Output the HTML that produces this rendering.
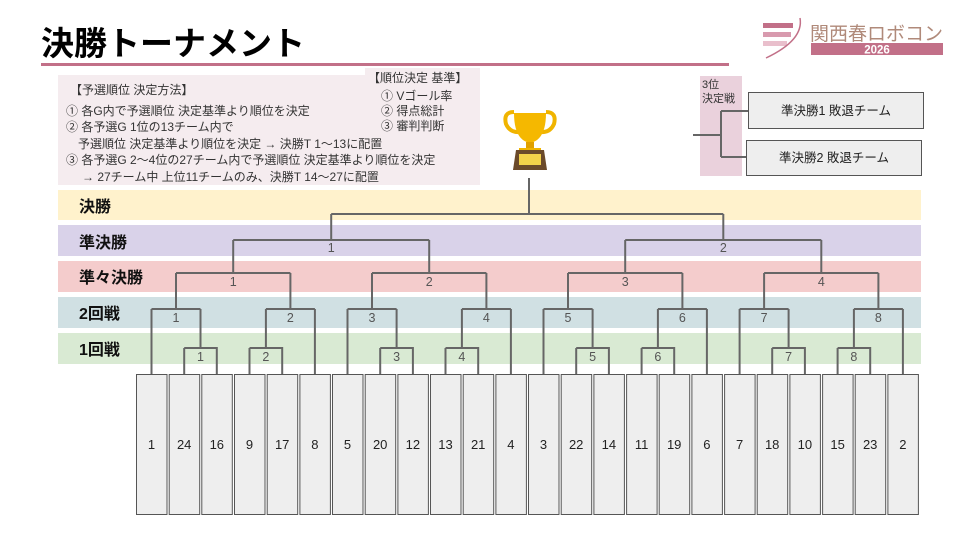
<!DOCTYPE html>
<html><head><meta charset="utf-8"><style>
body{margin:0;width:960px;height:540px;background:#fff;overflow:hidden;font-family:"Liberation Sans","Noto Sans CJK JP",sans-serif;}
</style></head><body>
<svg width="960" height="540" viewBox="0 0 960 540" xmlns="http://www.w3.org/2000/svg" font-family="Liberation Sans, Noto Sans CJK JP, sans-serif">
<text x="41" y="55" font-size="33" font-weight="bold" fill="#000">決勝トーナメント</text>
<rect x="41" y="63" width="688" height="3" fill="#c27088"/>
<!-- logo -->
<g>
<rect x="763" y="23" width="30" height="5" fill="#c27088"/>
<rect x="763" y="32" width="28" height="5" fill="#d89aae"/>
<rect x="763" y="41" width="24" height="5" fill="#e9bfcc"/>
<path d="M800 18 Q804 40 766 58" stroke="#c27088" stroke-width="1.5" fill="none"/>
<text x="810" y="40" font-size="19" fill="#b08a7a">関西春ロボコン</text>
<rect x="811" y="43" width="132" height="12" fill="#c27088"/>
<text x="877" y="53.5" font-size="11.5" font-weight="bold" fill="#fff" text-anchor="middle">2026</text>
</g>
<!-- info box -->
<rect x="58" y="75" width="420" height="110" fill="#f5ecef"/>
<rect x="365" y="68" width="115" height="117" fill="#f5ecef"/>
<g font-size="12" fill="#333">
<text x="70" y="94">【予選順位 決定方法】</text>
<text x="66" y="115">① 各G内で予選順位 決定基準より順位を決定</text>
<text x="66" y="131">② 各予選G 1位の13チーム内で</text>
<text x="78" y="148">予選順位 決定基準より順位を決定 → 決勝T 1〜13に配置</text>
<text x="66" y="164">③ 各予選G 2〜4位の27チーム内で予選順位 決定基準より順位を決定</text>
<text x="82" y="181">→ 27チーム中 上位11チームのみ、決勝T 14〜27に配置</text>
<text x="368" y="82">【順位決定 基準】</text>
<text x="381" y="100">① Vゴール率</text>
<text x="381" y="115">② 得点総計</text>
<text x="381" y="130">③ 審判判断</text>
</g>
<!-- trophy -->
<g>
<path d="M514 112 Q503 112 506 124 Q510 133 520 132" stroke="#f0b400" stroke-width="4" fill="none"/>
<path d="M546 112 Q557 112 554 124 Q550 133 540 132" stroke="#f0b400" stroke-width="4" fill="none"/>
<path d="M514 113 L546 113 Q546 140 530 143 Q514 140 514 113 Z" fill="#f5b800"/>
<rect x="526" y="142" width="8" height="8" fill="#e0a000"/>
<rect x="519" y="148" width="22" height="4" fill="#f0b400"/>
<path d="M513 170 L516 150 L544 150 L547 170 Z" fill="#6b4a2a"/>
<rect x="519" y="154" width="22" height="11" fill="#f3d24a"/>
</g>
<!-- 3rd place -->
<rect x="700" y="76" width="42" height="100" fill="#ead1dc"/>
<text x="702" y="88" font-size="11" fill="#333">3位</text>
<text x="702" y="102" font-size="11" fill="#333">決定戦</text>
<g stroke="#666" stroke-width="2" fill="none">
<path d="M693 135 H721 M721 111 V157 M721 111 H748 M721 157 H746"/>
</g>
<rect x="748.5" y="92.5" width="175" height="36" fill="#eee" stroke="#555"/>
<rect x="746.5" y="140.5" width="175" height="35" fill="#eee" stroke="#555"/>
<text x="836" y="115" font-size="12.5" text-anchor="middle" fill="#222">準決勝1 敗退チーム</text>
<text x="834" y="162" font-size="12.5" text-anchor="middle" fill="#222">準決勝2 敗退チーム</text>
<!-- bands -->
<rect x="58" y="190" width="863" height="30" fill="#fff2cc"/>
<rect x="58" y="225" width="863" height="31" fill="#d9d2e9"/>
<rect x="58" y="261" width="863" height="31" fill="#f4cccc"/>
<rect x="58" y="297" width="863" height="31" fill="#d0e0e3"/>
<rect x="58" y="333" width="863" height="31" fill="#d9ead3"/>
<g font-size="16" font-weight="bold" fill="#111">
<text x="79" y="212">決勝</text>
<text x="79" y="248">準決勝</text>
<text x="79" y="283">準々決勝</text>
<text x="79" y="319">2回戦</text>
<text x="79" y="355">1回戦</text>
</g>
<!-- bracket lines -->
<g stroke="#666" stroke-width="2" fill="none">
<path d="M529 178 V214 M331.2 214 H723.3 M331.2 214 V240 M723.3 214 V240"/>
<path d="M233.2 240 H429.2 M233.2 240 V273 M429.2 240 V273 M625.2 240 H821.3 M625.2 240 V273 M821.3 240 V273"/>
<path d="M176 273 H290.4 M176 273 V309 M290.4 273 V309 M372 273 H486.4 M372 273 V309 M486.4 273 V309 M568 273 H682.4 M568 273 V309 M682.4 273 V309 M764.1 273 H878.4 M764.1 273 V309 M878.4 273 V309"/>
<path d="M151.5 309 H200.5 M151.5 309 V374 M200.5 309 V348
M265.9 309 H314.9 M265.9 309 V348 M314.9 309 V374
M347.5 309 H396.6 M347.5 309 V374 M396.6 309 V348
M461.9 309 H510.9 M461.9 309 V348 M510.9 309 V374
M543.5 309 H592.6 M543.5 309 V374 M592.6 309 V348
M657.9 309 H706.9 M657.9 309 V348 M706.9 309 V374
M739.6 309 H788.6 M739.6 309 V374 M788.6 309 V348
M853.9 309 H902.9 M853.9 309 V348 M902.9 309 V374"/>
<path d="M184.2 348 H216.8 V374 M184.2 348 V374
M249.5 348 H282.2 V374 M249.5 348 V374
M380.2 348 H412.9 V374 M380.2 348 V374
M445.5 348 H478.2 V374 M445.5 348 V374
M576.2 348 H608.9 V374 M576.2 348 V374
M641.6 348 H674.2 V374 M641.6 348 V374
M772.2 348 H804.9 V374 M772.2 348 V374
M837.6 348 H870.2 V374 M837.6 348 V374"/>
</g>
<g font-size="12.5" fill="#555" text-anchor="middle">
<text x="331.2" y="252">1</text><text x="723.3" y="252">2</text>
<text x="233.2" y="286">1</text><text x="429.2" y="286">2</text><text x="625.2" y="286">3</text><text x="821.3" y="286">4</text>
<text x="176" y="322">1</text><text x="290.4" y="322">2</text><text x="372" y="322">3</text><text x="486.4" y="322">4</text>
<text x="568" y="322">5</text><text x="682.4" y="322">6</text><text x="764.1" y="322">7</text><text x="878.4" y="322">8</text>
<text x="200.5" y="361">1</text><text x="265.9" y="361">2</text><text x="396.6" y="361">3</text><text x="461.9" y="361">4</text>
<text x="592.6" y="361">5</text><text x="657.9" y="361">6</text><text x="788.6" y="361">7</text><text x="853.9" y="361">8</text>
</g>
<!-- team boxes -->
<g fill="#eee" stroke="#555" stroke-width="1">
<rect x="136.5" y="374.5" width="30.5" height="140"/>
<rect x="169.2" y="374.5" width="30.5" height="140"/>
<rect x="201.8" y="374.5" width="30.5" height="140"/>
<rect x="234.5" y="374.5" width="30.5" height="140"/>
<rect x="267.2" y="374.5" width="30.5" height="140"/>
<rect x="299.9" y="374.5" width="30.5" height="140"/>
<rect x="332.5" y="374.5" width="30.5" height="140"/>
<rect x="365.2" y="374.5" width="30.5" height="140"/>
<rect x="397.9" y="374.5" width="30.5" height="140"/>
<rect x="430.5" y="374.5" width="30.5" height="140"/>
<rect x="463.2" y="374.5" width="30.5" height="140"/>
<rect x="495.9" y="374.5" width="30.5" height="140"/>
<rect x="528.5" y="374.5" width="30.5" height="140"/>
<rect x="561.2" y="374.5" width="30.5" height="140"/>
<rect x="593.9" y="374.5" width="30.5" height="140"/>
<rect x="626.6" y="374.5" width="30.5" height="140"/>
<rect x="659.2" y="374.5" width="30.5" height="140"/>
<rect x="691.9" y="374.5" width="30.5" height="140"/>
<rect x="724.6" y="374.5" width="30.5" height="140"/>
<rect x="757.2" y="374.5" width="30.5" height="140"/>
<rect x="789.9" y="374.5" width="30.5" height="140"/>
<rect x="822.6" y="374.5" width="30.5" height="140"/>
<rect x="855.2" y="374.5" width="30.5" height="140"/>
<rect x="887.9" y="374.5" width="30.5" height="140"/>
</g>
<g font-size="13" fill="#222" text-anchor="middle">
<text x="151.5" y="449">1</text><text x="184.2" y="449">24</text><text x="216.8" y="449">16</text>
<text x="249.5" y="449">9</text><text x="282.2" y="449">17</text><text x="314.9" y="449">8</text>
<text x="347.5" y="449">5</text><text x="380.2" y="449">20</text><text x="412.9" y="449">12</text>
<text x="445.5" y="449">13</text><text x="478.2" y="449">21</text><text x="510.9" y="449">4</text>
<text x="543.5" y="449">3</text><text x="576.2" y="449">22</text><text x="608.9" y="449">14</text>
<text x="641.6" y="449">11</text><text x="674.2" y="449">19</text><text x="706.9" y="449">6</text>
<text x="739.6" y="449">7</text><text x="772.2" y="449">18</text><text x="804.9" y="449">10</text>
<text x="837.6" y="449">15</text><text x="870.2" y="449">23</text><text x="902.9" y="449">2</text>
</g>
</svg>
</body></html>
